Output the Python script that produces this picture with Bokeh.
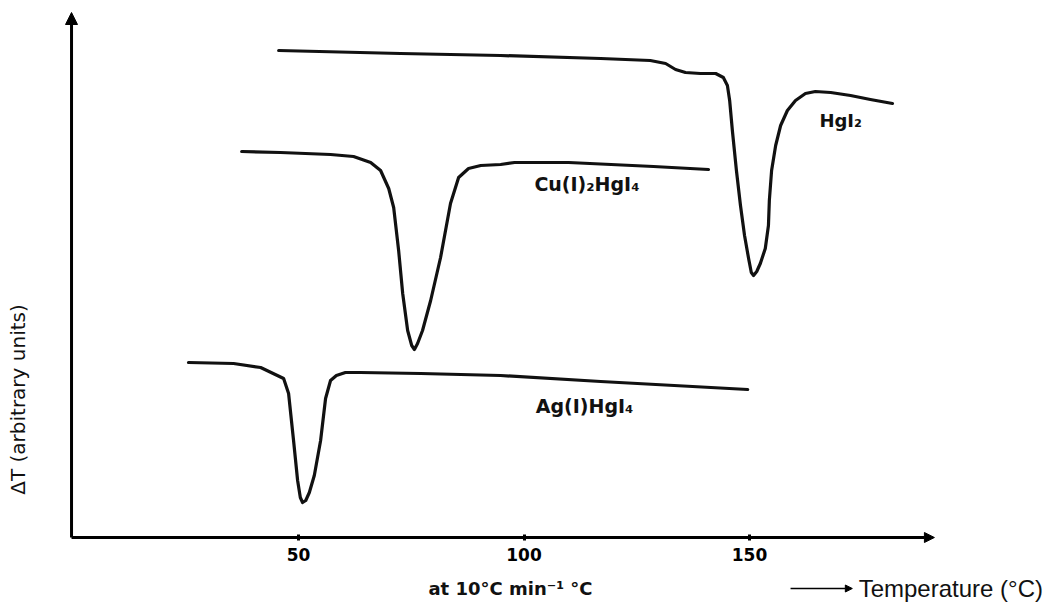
import numpy as np
from bokeh.plotting import figure
from bokeh.models import Range1d, FixedTicker, Label, Arrow, NormalHead
from bokeh.embed import file_html
from bokeh.resources import INLINE

# ---- data (temperature in °C, ΔT in arbitrary units) ----
hgi2_t = [45.6, 72.6, 94.8, 117.0, 128.0, 131.4, 133.6, 135.8, 139.1, 142.5, 144.2, 145.1,
          145.6, 146.2, 147.1, 148.0, 148.9, 149.8, 150.4, 150.9, 151.6, 152.4, 153.5, 154.2,
          154.4, 154.9, 155.8, 156.9, 158.4, 160.2, 162.4, 164.6, 168.0, 172.4, 176.8, 181.7]
hgi2_dt = [48.7, 48.4, 48.2, 47.9, 47.7, 47.4, 46.8, 46.5, 46.4, 46.4, 46.0, 45.2,
           43.7, 40.7, 36.7, 33.2, 30.2, 27.9, 26.5, 26.2, 26.6, 27.4, 28.9, 31.2,
           33.7, 36.7, 39.2, 41.2, 42.7, 43.7, 44.4, 44.6, 44.5, 44.2, 43.8, 43.4]

cu_t = [37.4, 46.0, 57.1, 62.2, 66.0, 68.2, 70.0, 71.1, 72.2, 73.1, 74.2, 75.1, 75.7,
        76.4, 77.5, 79.3, 81.5, 83.7, 85.5, 87.7, 90.4, 94.8, 97.9, 109.9, 128.7, 140.9]
cu_dt = [38.6, 38.5, 38.3, 38.1, 37.5, 36.7, 34.9, 33.0, 28.7, 24.4, 20.7, 19.2, 18.8,
         19.4, 20.7, 23.7, 28.0, 33.4, 36.0, 36.9, 37.2, 37.3, 37.5, 37.5, 37.1, 36.8]

ag_t = [25.6, 35.6, 41.6, 46.7, 47.8, 48.9, 49.8, 50.4, 50.9, 51.6, 52.4, 53.5, 54.9,
        56.0, 57.1, 58.4, 60.4, 63.7, 77.1, 94.8, 117.0, 149.6]
ag_dt = [17.5, 17.4, 17.0, 15.9, 14.4, 9.7, 5.7, 4.0, 3.5, 3.7, 4.5, 6.2, 9.7,
         13.9, 15.7, 16.2, 16.5, 16.5, 16.4, 16.2, 15.6, 14.8]

x_ticks = [50, 100, 150]
series_labels = ["HgI\u2082", "Cu(I)\u2082HgI\u2084", "Ag(I)HgI\u2084"]
x_label = "at 10\u00b0C min\u207b\u00b9 \u00b0C"
x_title = "Temperature (\u00b0C)"
y_label = "\u0394T (arbitrary units)"

W, H = 1055, 603
# 4.51 px per °C, origin of the temperature axis at 72.5 px; 10 px per ΔT unit, zero at 537 px
p = figure(width=W, height=H, output_backend="svg", toolbar_location=None,
           x_range=Range1d(-16.08, 217.85), y_range=Range1d(-6.6, 53.7),
           min_border_left=0, min_border_right=0, min_border_top=0, min_border_bottom=0)
p.outline_line_color = None
p.grid.visible = False
p.yaxis.visible = False
p.background_fill_color = "white"
p.border_fill_color = "white"

ax = p.xaxis[0]
ax.fixed_location = 0
ax.ticker = FixedTicker(ticks=x_ticks)
ax.axis_line_color = None
ax.major_tick_line_width = 3
ax.major_tick_line_color = "black"
ax.major_tick_in = 3
ax.major_tick_out = 3
ax.minor_tick_line_color = None
ax.major_label_standoff = 7
ax.major_label_text_font = "DejaVu Sans"
ax.major_label_text_font_style = "bold"
ax.major_label_text_font_size = "17px"
ax.major_label_text_color = "black"

LC = "#111111"
for t, d in [(hgi2_t, hgi2_dt), (cu_t, cu_dt), (ag_t, ag_dt)]:
    p.line(t, d, line_color=LC, line_width=3.2, line_join="round", line_cap="round")

# axes with arrows
p.add_layout(Arrow(x_start=-0.33, y_start=0, x_end=-0.33, y_end=52.5, line_width=3,
                   line_color="black",
                   end=NormalHead(size=12, fill_color="black", line_color="black")))
p.add_layout(Arrow(x_start=-0.33, y_start=0, x_end=191.0, y_end=0, line_width=3,
                   line_color="black",
                   end=NormalHead(size=10, fill_color="black", line_color="black")))

lab_font = "DejaVu Sans"
p.add_layout(Label(x=165.5, y=41.7, text=series_labels[0], text_font=lab_font,
                   text_font_style="bold", text_font_size="18px", text_baseline="middle",
                   text_color=LC))
p.add_layout(Label(x=102.3, y=35.4, text=series_labels[1], text_font=lab_font,
                   text_font_style="bold", text_font_size="19px", text_baseline="middle",
                   text_color=LC))
p.add_layout(Label(x=102.6, y=13.2, text=series_labels[2], text_font=lab_font,
                   text_font_style="bold", text_font_size="19px", text_baseline="middle",
                   text_color=LC))

p.add_layout(Label(x=97.0, y=-5.1, text=x_label, text_font=lab_font,
                   text_font_style="bold", text_font_size="18px", text_align="center",
                   text_baseline="middle", text_color=LC))
p.add_layout(Arrow(x_start=159.1, y_start=-5.1, x_end=172.8, y_end=-5.1, line_width=1.5,
                   line_color="black",
                   end=NormalHead(size=7, fill_color="black", line_color="black")))
p.add_layout(Label(x=174.2, y=-5.1, text=x_title, text_font="Liberation Sans",
                   text_font_size="24px", text_baseline="middle", text_color=LC))

p.add_layout(Label(x=-12.1, y=13.8, text=y_label, text_font=lab_font,
                   text_font_size="20px", text_align="center", text_baseline="middle",
                   angle=np.pi / 2, text_color=LC))

open("out.html", "w").write(file_html(p, INLINE))
